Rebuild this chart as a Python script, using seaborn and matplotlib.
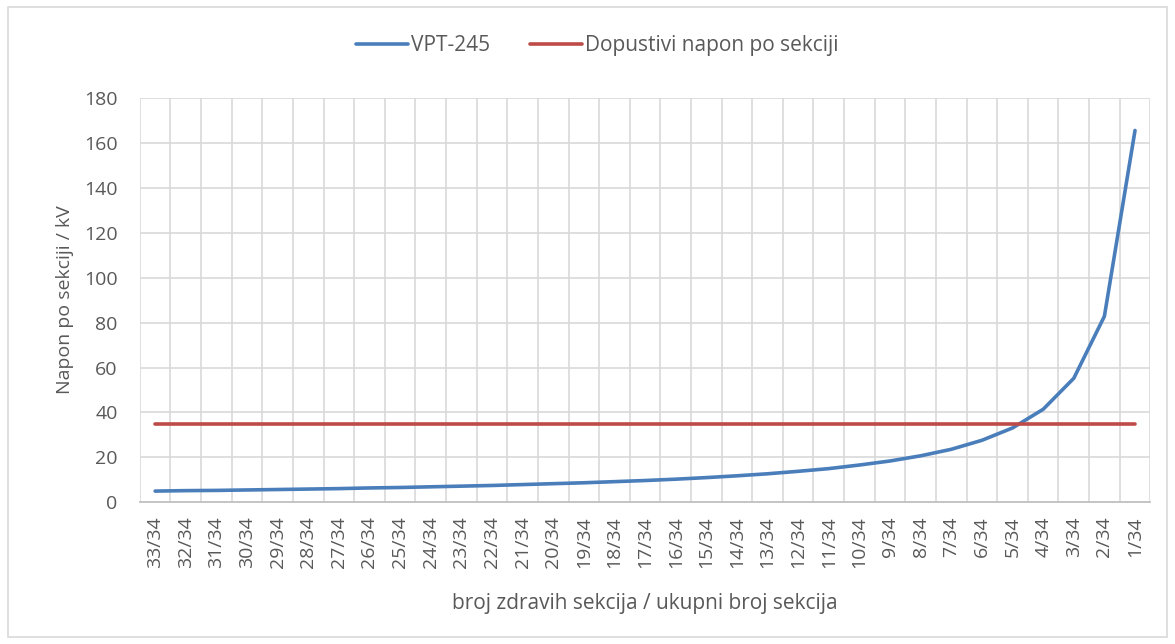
import matplotlib
matplotlib.use("Agg")
import matplotlib.pyplot as plt
import pandas as pd
import seaborn as sns
from matplotlib.patches import Rectangle

# data
categories = [f"{n}/34" for n in range(33, 0, -1)]
vpt_245 = [5.0, 5.2, 5.3, 5.5, 5.7, 5.9, 6.1, 6.4, 6.6, 6.9, 7.2, 7.5, 7.9,
           8.3, 8.7, 9.2, 9.7, 10.3, 11.0, 11.8, 12.7, 13.8, 15.0, 16.6,
           18.4, 20.7, 23.6, 27.6, 33.1, 41.4, 55.2, 82.8, 165.5]
dopustivi = [35.0] * len(categories)
y_ticks = [0, 20, 40, 60, 80, 100, 120, 140, 160, 180]

df = pd.DataFrame({
    "pos": list(range(len(categories))) * 2,
    "napon": vpt_245 + dopustivi,
    "serija": ["VPT-245"] * len(categories) + ["Dopustivi napon po sekciji"] * len(categories),
})

sns.set_theme(style="white")
plt.rcParams["font.family"] = ["Open Sans", "DejaVu Sans"]
text_color = "#595959"
grid_color = "#D9D9D9"

fig = plt.figure(figsize=(11.75, 6.44), dpi=100)
fig.patches.append(Rectangle((0.007, 0.011), 0.986, 0.978, transform=fig.transFigure,
                             fill=False, edgecolor="#D9D9D9", linewidth=1.2))
ax = fig.add_axes([0.119, 0.220, 0.860, 0.628])

sns.lineplot(data=df, x="pos", y="napon", hue="serija",
             palette=["#4A7EBB", "#BE4B48"], linewidth=2.6, ax=ax, legend=False)

n = len(categories)
ax.set_xlim(-0.5, n - 0.5)
ax.set_ylim(0, 180)
ax.set_yticks(y_ticks)
ax.set_xticks(range(n))
ax.set_xticklabels(categories, rotation=90)
ax.grid(False)
for x in [i - 0.5 for i in range(n + 1)]:
    ax.axvline(x, color=grid_color, linewidth=1.2, zorder=0)
for y in y_ticks[1:]:
    ax.axhline(y, color=grid_color, linewidth=1.2, zorder=0)
for side in ["top", "right", "left"]:
    ax.spines[side].set_visible(False)
ax.spines["bottom"].set_color("#BFBFBF")
ax.spines["bottom"].set_linewidth(1.3)
ax.tick_params(axis="both", which="both", length=0, labelsize=14, colors=text_color)
ax.tick_params(axis="x", pad=10)
ax.tick_params(axis="y", pad=16)

ax.set_xlabel("broj zdravih sekcija / ukupni broj sekcija", fontsize=15, color=text_color, labelpad=18)
ax.set_ylabel("Napon po sekciji / kV", fontsize=14, color=text_color, labelpad=7)

handles = [plt.Line2D([], [], color="#4A7EBB", linewidth=2.6),
           plt.Line2D([], [], color="#BE4B48", linewidth=2.6)]
fig.legend(handles, ["VPT-245", "Dopustivi napon po sekciji"], loc="center",
           bbox_to_anchor=(0.508, 0.929), ncol=2, frameon=False, fontsize=15,
           labelcolor=text_color, handlelength=2.5, columnspacing=1.9, handletextpad=0.15)

fig.savefig("out.png", dpi=100)
plt.close(fig)
